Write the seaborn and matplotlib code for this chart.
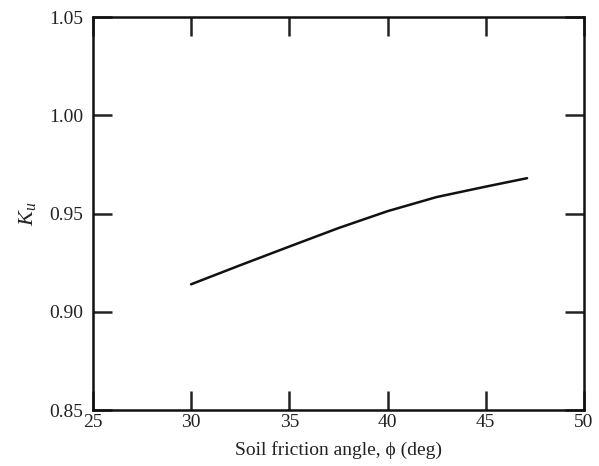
import pandas as pd
import matplotlib.pyplot as plt
import seaborn as sns

# Values
friction_angle = [30.0, 32.5, 35.0, 37.5, 40.0, 42.5, 45.0, 47.1]
ku_values = [0.914, 0.9237, 0.9332, 0.9426, 0.9512, 0.9584, 0.9637, 0.968]

x_ticks = [25, 30, 35, 40, 45, 50]
y_ticks = [0.85, 0.90, 0.95, 1.00, 1.05]

df = pd.DataFrame({'phi': friction_angle, 'Ku': ku_values})

sns.set_style('ticks')
plt.rcParams['font.family'] = ['Liberation Serif', 'DejaVu Serif']
plt.rcParams['mathtext.fontset'] = 'custom'
plt.rcParams['mathtext.it'] = 'Liberation Serif:italic'
plt.rcParams['mathtext.rm'] = 'Liberation Serif'

fig = plt.figure(figsize=(5.99, 4.66), dpi=100)
ax = fig.add_axes([0.155, 0.12, 0.82, 0.8435])

sns.lineplot(data=df, x='phi', y='Ku', color='#111111', linewidth=1.8, ax=ax)

ax.set_xlim(25, 50)
ax.set_ylim(0.85, 1.05)
ax.set_xticks(x_ticks)
ax.set_yticks(y_ticks)
ax.set_xticklabels([str(t) for t in x_ticks])
ax.set_yticklabels([f'{t:.2f}' for t in y_ticks])

ax.tick_params(direction='in', length=14, width=1.8, top=True, right=True,
               labelsize=14, colors='#222222')
ax.tick_params(axis='x', pad=3)
ax.tick_params(axis='y', pad=7)
for side in ['top', 'right', 'bottom', 'left']:
    ax.spines[side].set_visible(True)
    ax.spines[side].set_linewidth(1.8)
    ax.spines[side].set_color('#111111')

ax.set_xlabel('Soil friction angle, \u03d5 (deg)', fontsize=14, color='#222222', labelpad=7)
ax.set_ylabel('$K_u$', fontsize=16, color='#222222', labelpad=8)

fig.savefig('out.png', dpi=100)
plt.close(fig)
